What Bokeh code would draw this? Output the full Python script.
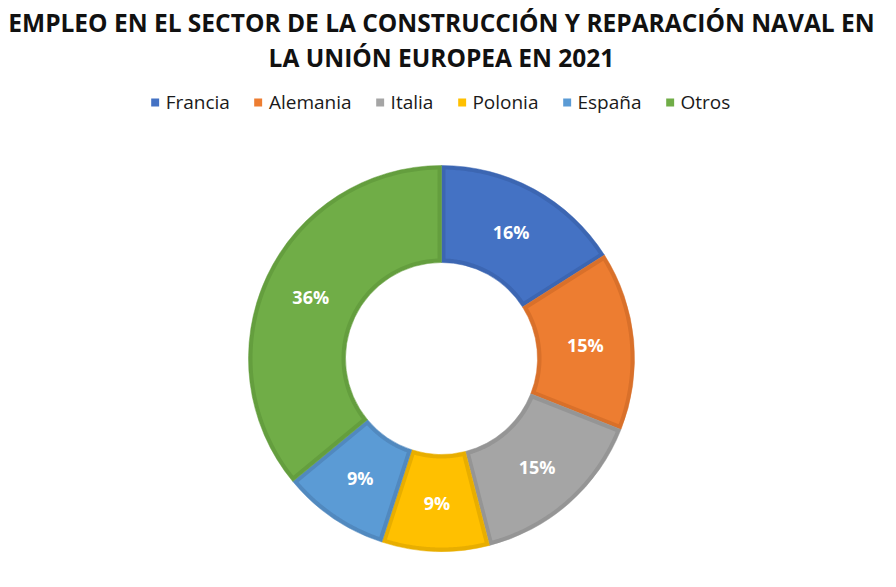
import math
from bokeh.plotting import figure
from bokeh.models import Range1d, Legend, LegendItem, ColumnDataSource
from bokeh.core.properties import value
from bokeh.embed import file_html
from bokeh.resources import INLINE

categories = ["Francia", "Alemania", "Italia", "Polonia", "España", "Otros"]
shares = [16, 15, 15, 9, 9, 36]
labels = ["16%", "15%", "15%", "9%", "9%", "36%"]
fills = ["#4472C4", "#ED7D31", "#A5A5A5", "#FFC000", "#5B9BD5", "#70AD47"]
edges = ["#3C66B2", "#D9702A", "#959595", "#E8AE00", "#5189BF", "#649E3E"]
title_lines = ["EMPLEO EN EL SECTOR DE LA CONSTRUCCIÓN Y REPARACIÓN NAVAL EN",
               "LA UNIÓN EUROPEA EN 2021"]

W, H = 880, 571
cx, cy = 441, 358  # canvas px of donut centre

p = figure(width=W, height=H, output_backend="svg", toolbar_location=None,
           x_range=Range1d(-cx, W - cx), y_range=Range1d(-(H - cy), cy),
           min_border=0, x_axis_location=None, y_axis_location=None,
           background_fill_color="white", border_fill_color="white")
p.grid.visible = False
p.outline_line_color = None

total = sum(shares)
starts, ends, mids = [], [], []
acc = 0.0
for s in shares:
    a0 = math.pi / 2 - 2 * math.pi * acc / total
    acc += s
    a1 = math.pi / 2 - 2 * math.pi * acc / total
    starts.append(a0)
    ends.append(a1)
    mids.append((a0 + a1) / 2)

r_in, r_out, d = 96, 193, 4.0
# full slices in the darker border colour
src = ColumnDataSource(dict(start=starts, end=ends, edge=edges,
                            x=[0] * len(shares), y=[0] * len(shares)))
p.annular_wedge(x="x", y="y", inner_radius=r_in, outer_radius=r_out,
                start_angle="start", end_angle="end", direction="clock",
                fill_color="edge", line_color="edge", line_width=0.5, source=src)

# inset interiors in the main colour (each slice keeps its own border)
xs, ys = [], []
ro, ri = r_out - d, r_in + d
for a0, a1 in zip(starts, ends):
    do, di = math.asin(d / ro), math.asin(d / ri)
    n = 80
    px, py = [], []
    for k in range(n + 1):
        a = (a0 - do) + ((a1 + do) - (a0 - do)) * k / n
        px.append(ro * math.cos(a)); py.append(ro * math.sin(a))
    for k in range(n + 1):
        a = (a1 + di) + ((a0 - di) - (a1 + di)) * k / n
        px.append(ri * math.cos(a)); py.append(ri * math.sin(a))
    xs.append(px); ys.append(py)
p.patches(xs=xs, ys=ys, fill_color=fills, line_color=None)

r_lab = (r_in + r_out) / 2
lab_src = ColumnDataSource(dict(x=[r_lab * math.cos(m) for m in mids],
                                y=[r_lab * math.sin(m) for m in mids],
                                t=labels))
p.text(x="x", y="y", text="t", source=lab_src, text_align="center",
       text_baseline="middle", text_color="white", text_font=value("Open Sans"),
       text_font_style="bold", text_font_size="18px")

# title
p.text(x=[0, 0], y=[cy - 22, cy - 57], text=title_lines, text_align="center",
       text_baseline="middle", text_color="#111111", text_font=value("Open Sans"),
       text_font_style="bold", text_font_size="24.5px")

# legend swatches: zero-area quads (only their legend glyphs show)
leg_src = ColumnDataSource(dict(l=[0] * len(categories), r=[0] * len(categories),
                                t=[0] * len(categories), b=[0] * len(categories),
                                fill=fills, name=categories))
qr = p.quad(left="l", right="r", top="t", bottom="b", fill_color="fill",
            line_color=None, source=leg_src)
items = [LegendItem(label=c, renderers=[qr], index=i) for i, c in enumerate(categories)]
leg = Legend(items=items, orientation="horizontal", location="top_center",
             margin=89, padding=0, border_line_color=None, background_fill_alpha=0,
             glyph_width=10, glyph_height=10, label_standoff=6, spacing=23,
             label_text_font="Open Sans", label_text_font_size="19px",
             label_text_color="#1a1a1a")
p.add_layout(leg)

open("out.html", "w").write(file_html(p, INLINE))
